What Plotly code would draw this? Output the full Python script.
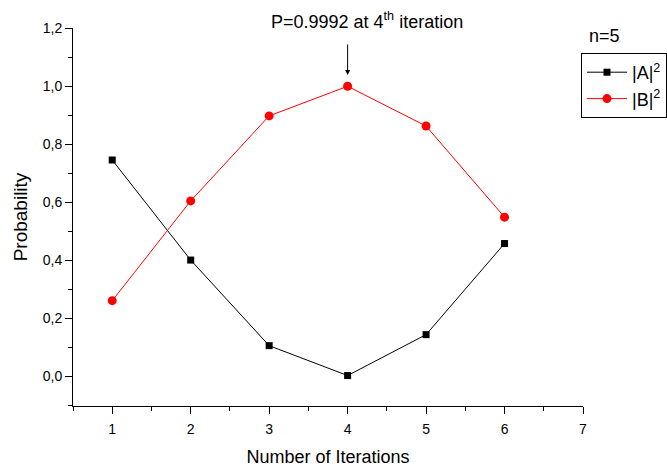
import plotly.graph_objects as go

iterations = [1, 2, 3, 4, 5, 6]
prob_A = [0.745, 0.400, 0.105, 0.002, 0.143, 0.457]
prob_B = [0.260, 0.604, 0.897, 0.9992, 0.862, 0.548]
x_ticks = [1, 2, 3, 4, 5, 6, 7]

FONT = "Liberation Sans, Arial, sans-serif"

# plot area in pixels (for converting annotation positions to paper coords)
L, R, T, B = 73, 583, 28, 406
def px_x(p):
    return (p - L) / (R - L)
def px_y(p):
    return (B - p) / (B - T)

fig = go.Figure()
fig.add_trace(go.Scatter(
    x=iterations, y=prob_A, mode="lines+markers", name="|A|<sup>2</sup>",
    line=dict(color="black", width=1),
    marker=dict(symbol="square", size=7, color="black"),
    cliponaxis=False,
))
fig.add_trace(go.Scatter(
    x=iterations, y=prob_B, mode="lines+markers", name="|B|<sup>2</sup>",
    line=dict(color="red", width=1),
    marker=dict(symbol="circle", size=9, color="red"),
    cliponaxis=False,
))

axis_common = dict(
    showline=True, linecolor="black", linewidth=1, mirror=False,
    showgrid=False, zeroline=False, ticks="outside", tickcolor="black",
    ticklen=7, tickwidth=1, tickfont=dict(size=14, color="black", family=FONT),
)

fig.update_xaxes(
    range=[0.5, 7], tickvals=x_ticks, ticklabelstandoff=3,
    title=dict(text="Number of Iterations", font=dict(size=18, color="black", family=FONT), standoff=14),
    minor=dict(ticks="outside", dtick=0.5, tick0=0.5, ticklen=4, tickcolor="black"),
    **axis_common,
)
fig.update_yaxes(
    range=[-0.103, 1.2], dtick=0.2, tick0=0, tickformat=".1f",
    title=dict(text="Probability", font=dict(size=19, color="black", family=FONT), standoff=10),
    minor=dict(ticks="outside", dtick=0.1, tick0=0, ticklen=4, tickcolor="black"),
    **axis_common,
)

fig.add_annotation(
    x=px_x(367), y=px_y(20), xref="paper", yref="paper",
    text="P=0.9992 at 4<sup>th</sup> iteration",
    showarrow=False, xanchor="center", yanchor="middle",
    font=dict(size=18, color="black", family=FONT),
)
fig.add_annotation(
    x=4, y=1.038, xref="x", yref="y", text="", showarrow=True,
    ax=0, ay=-32, arrowhead=2, arrowsize=1, arrowwidth=1, arrowcolor="black",
)
fig.add_annotation(
    x=px_x(604), y=px_y(36), xref="paper", yref="paper", text="n=5",
    showarrow=False, xanchor="center", yanchor="middle",
    font=dict(size=18, color="black", family=FONT),
)

fig.update_layout(
    width=667, height=468,
    margin=dict(l=L, r=667 - R, t=T, b=468 - B, autoexpand=False),
    paper_bgcolor="white", plot_bgcolor="rgba(0,0,0,0)",
    separators=", ",
    font=dict(family=FONT, color="black"),
    showlegend=True,
    legend=dict(
        x=581 / 667, y=1 - 53 / 468, xref="container", yref="container",
        xanchor="left", yanchor="top",
        bordercolor="black", borderwidth=1, bgcolor="white",
        font=dict(size=18, color="black", family=FONT),
        tracegroupgap=0, itemwidth=40,
    ),
)

fig.write_html("out.html")
